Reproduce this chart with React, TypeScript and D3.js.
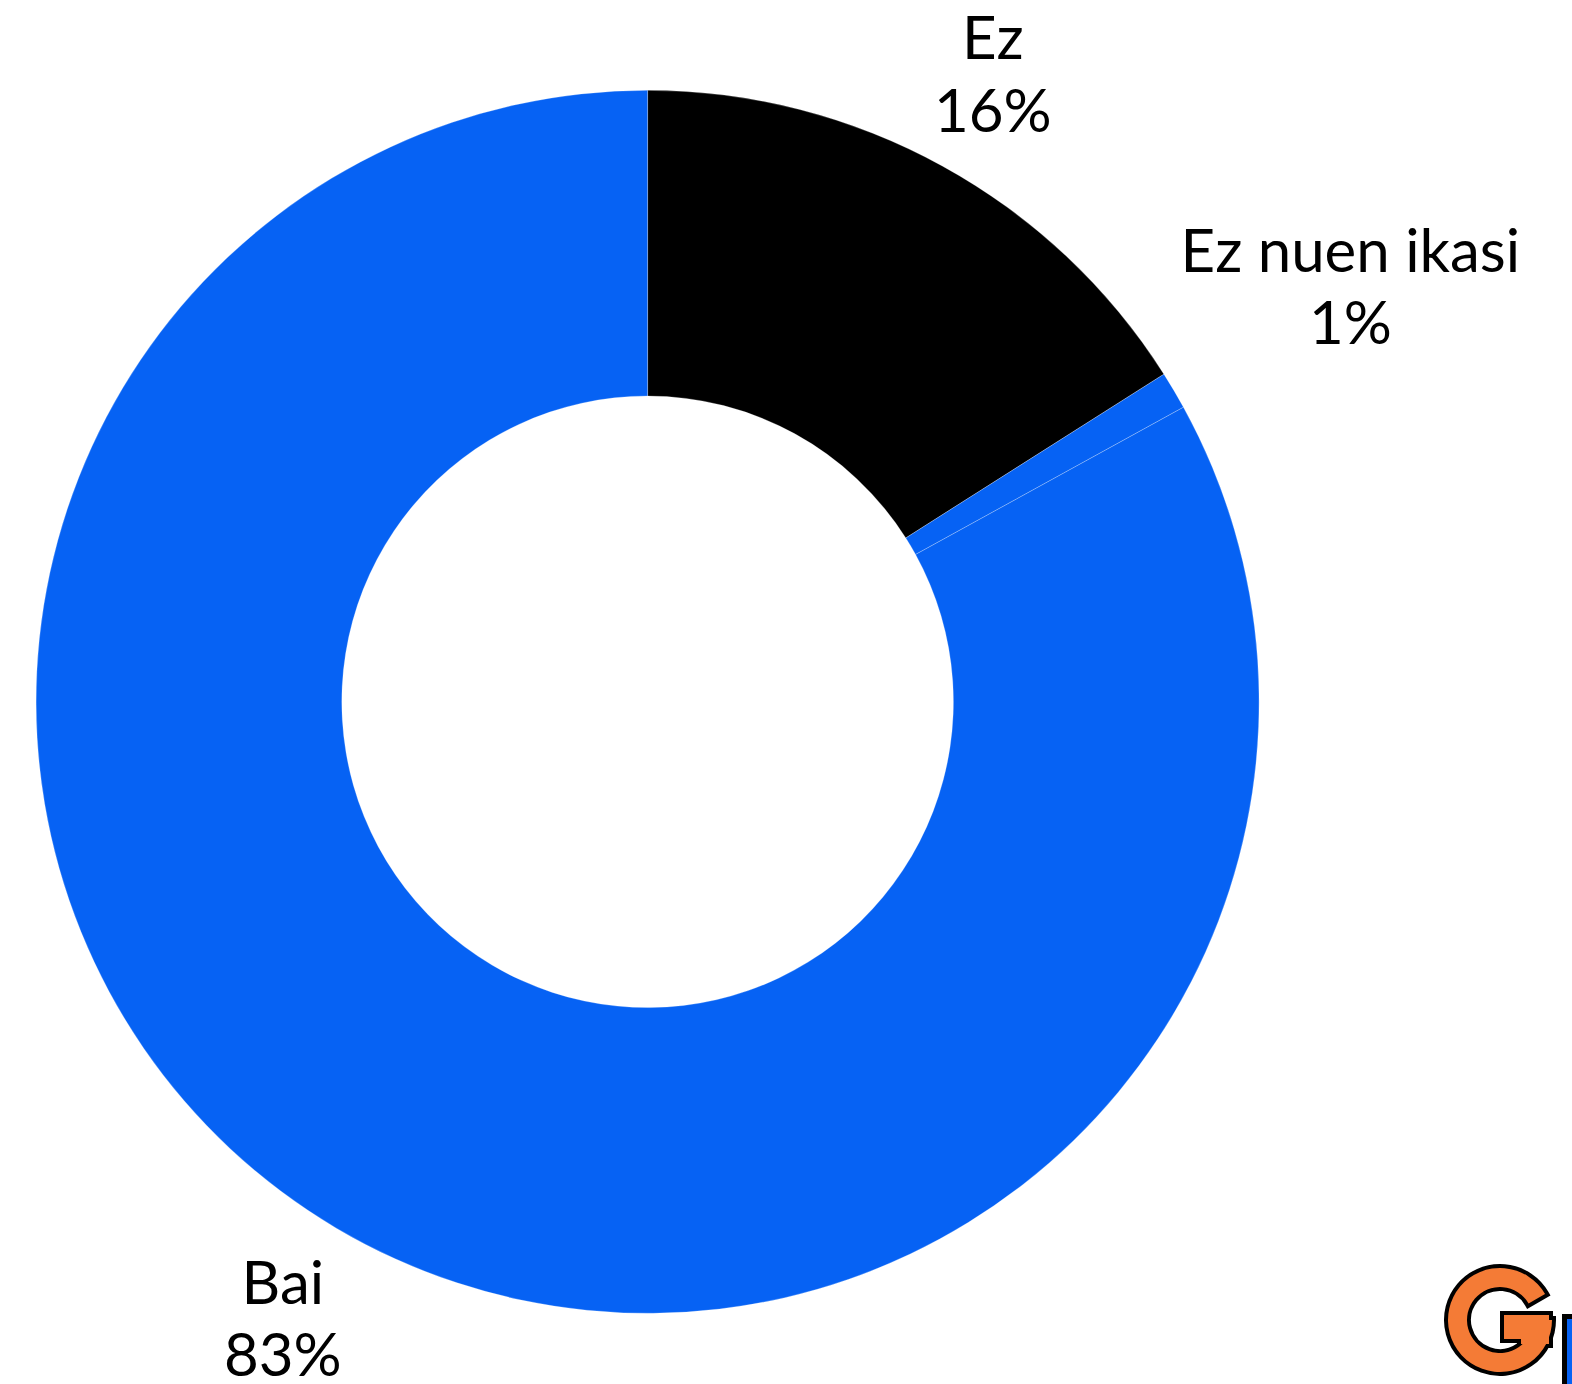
import React, { useEffect, useRef } from 'react';
import * as d3 from 'd3';

const categories = ['Ez', 'Ez nuen ikasi', 'Bai'];
const values = [16, 1, 83];
const percentLabels = ['16%', '1%', '83%'];
const colors = ['#000000', '#0662F4', '#0662F4'];

const WIDTH = 1572;
const HEIGHT = 1384;

const App = () => {
  const svgRef = useRef(null);

  useEffect(() => {
    const svg = d3.select(svgRef.current);
    svg.selectAll('*').remove();

    const cx = 647.6;
    const cy = 701.8;
    const outerR = 611.5;
    const innerR = 305.8;

    const data = categories.map((c, i) => ({ name: c, value: values[i], label: percentLabels[i], color: colors[i] }));

    const pie = d3.pie().sort(null).value(d => d.value);
    const arcs = pie(data);

    const arc = d3.arc().innerRadius(innerR).outerRadius(outerR);

    const g = svg.append('g').attr('transform', `translate(${cx},${cy})`);

    g.selectAll('path.slice')
      .data(arcs)
      .enter()
      .append('path')
      .attr('class', 'slice')
      .attr('d', arc)
      .attr('fill', d => d.data.color)
      .attr('stroke', '#ffffff')
      .attr('stroke-opacity', 0.35)
      .attr('stroke-width', 0.7);

    // labels sit outside the ring, small slices pushed further out
    const total = d3.sum(values);
    const labels = g.selectAll('text.label')
      .data(arcs)
      .enter()
      .append('text')
      .attr('class', 'label')
      .attr('text-anchor', 'middle')
      .style('font-family', 'Lato, sans-serif')
      .style('font-weight', 400)
      .style('font-size', '60px')
      .style('fill', '#000');

    labels.each(function (d) {
      const small = d.data.value / total < 0.03;
      const mid = (d.startAngle + d.endAngle) / 2;
      const r = outerR + (small ? 205 : 105);
      const x = Math.sin(mid) * r;
      const y = -Math.cos(mid) * r;
      const t = d3.select(this);
      t.append('tspan').attr('x', x).attr('y', y - 14.5).text(d.data.name);
      t.append('tspan').attr('x', x).attr('y', y + 57.6).text(d.data.label);
    });

    // logo in the bottom right corner
    const logo = svg.append('g').attr('transform', 'translate(1500,1320)');
    const ring = d3.arc().innerRadius(33).outerRadius(52).startAngle(Math.PI / 2).endAngle(Math.PI * 2 + Math.PI / 3);
    const barShape = 'M4,-5 L49,-5 L49,24 L21,24 L21,19 L4,19 Z';
    logo.append('rect').attr('x', 64.5).attr('y', -3.5).attr('width', 40).attr('height', 80)
      .attr('fill', '#0662F4').attr('stroke', '#000').attr('stroke-width', 5);
    logo.append('path').attr('d', ring()).attr('fill', 'none').attr('stroke', '#000').attr('stroke-width', 8).attr('stroke-linejoin', 'miter');
    logo.append('path').attr('d', barShape).attr('fill', 'none').attr('stroke', '#000').attr('stroke-width', 8);
    logo.append('path').attr('d', ring()).attr('fill', '#F47B36');
    logo.append('path').attr('d', barShape).attr('fill', '#F47B36');
  }, []);

  return (
    <svg
      ref={svgRef}
      width={WIDTH}
      height={HEIGHT}
      style={{ position: 'absolute', left: 0, top: 0, background: '#fff', display: 'block' }}
    ></svg>
  );
};

export default App;
